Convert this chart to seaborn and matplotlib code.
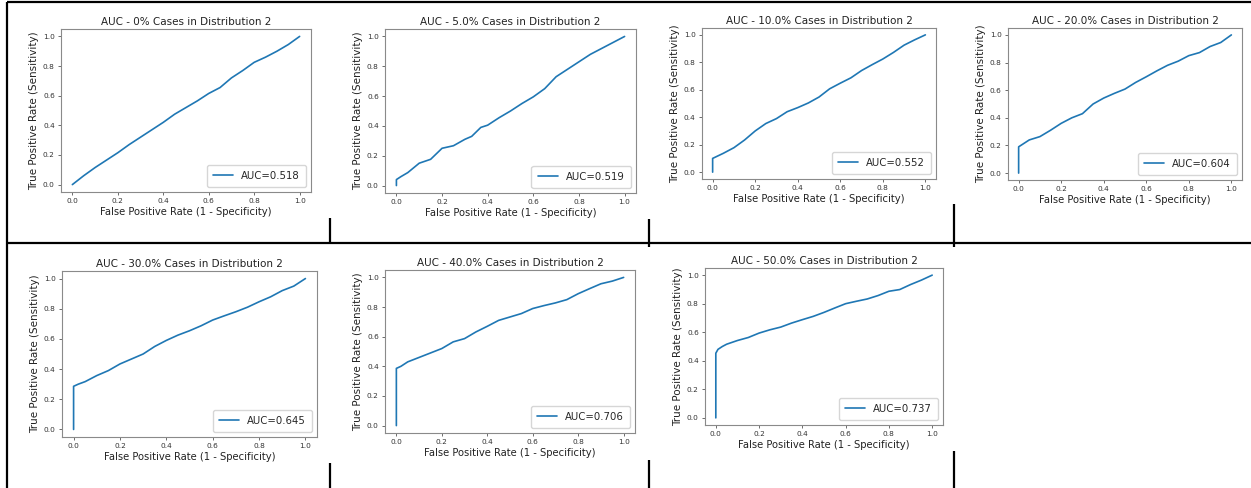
import numpy as np
import matplotlib
matplotlib.use("Agg")
import matplotlib.pyplot as plt
from matplotlib.lines import Line2D
import seaborn as sns

sns.set_theme(style="ticks")
plt.rcParams['font.family'] = ['DejaVu Sans']

# shares of cases drawn from distribution 2, and the AUC of each run
shares = ["0%", "5.0%", "10.0%", "20.0%", "30.0%", "40.0%", "50.0%"]
aucs = [0.518, 0.519, 0.552, 0.604, 0.645, 0.706, 0.737]

# ROC curves (false positive rate, true positive rate)
fpr_grid = [0.0, 0.05, 0.1, 0.15, 0.2, 0.25, 0.3, 0.35, 0.4, 0.45, 0.5,
            0.55, 0.6, 0.65, 0.7, 0.75, 0.8, 0.85, 0.9, 0.95, 1.0]

fpr_0 = fpr_grid
tpr_0 = [0.0, 0.06, 0.115, 0.165, 0.215, 0.27, 0.32, 0.37, 0.42, 0.475, 0.52,
         0.565, 0.615, 0.655, 0.72, 0.77, 0.825, 0.86, 0.9, 0.945, 1.0]

fpr_5 = [0.0, 0.0, 0.02] + fpr_grid[1:7] + [0.33, 0.37] + fpr_grid[8:]
tpr_5 = [0.0, 0.04, 0.06, 0.087, 0.15, 0.176, 0.25, 0.267, 0.31, 0.33, 0.39,
         0.405, 0.455, 0.5, 0.55, 0.595, 0.65, 0.73, 0.78, 0.83, 0.88, 0.92,
         0.96, 1.0]

fpr_10 = [0.0] + fpr_grid
tpr_10 = [0.0, 0.1, 0.137, 0.178, 0.234, 0.3, 0.354, 0.39, 0.44, 0.47, 0.504,
          0.547, 0.607, 0.648, 0.687, 0.74, 0.783, 0.824, 0.872, 0.925, 0.964, 1.0]

fpr_20 = [0.0, 0.0, 0.02] + fpr_grid[1:]
tpr_20 = [0.0, 0.19, 0.21, 0.24, 0.264, 0.31, 0.36, 0.40, 0.43, 0.50, 0.543,
          0.577, 0.608, 0.656, 0.697, 0.74, 0.78, 0.81, 0.85, 0.872, 0.916,
          0.945, 1.0]

fpr_30 = [0.0, 0.0, 0.02] + fpr_grid[1:]
tpr_30 = [0.0, 0.286, 0.3, 0.317, 0.357, 0.39, 0.434, 0.467, 0.5, 0.55, 0.59,
          0.625, 0.654, 0.687, 0.725, 0.753, 0.78, 0.81, 0.846, 0.879, 0.92,
          0.95, 1.0]

fpr_40 = [0.0, 0.0, 0.02] + fpr_grid[1:]
tpr_40 = [0.0, 0.386, 0.4, 0.43, 0.46, 0.49, 0.52, 0.565, 0.587, 0.632, 0.67,
          0.71, 0.733, 0.756, 0.79, 0.81, 0.828, 0.85, 0.89, 0.924, 0.957,
          0.975, 1.0]

fpr_50 = [0.0, 0.0, 0.01, 0.03] + fpr_grid[1:]
tpr_50 = [0.0, 0.453, 0.48, 0.5, 0.516, 0.542, 0.563, 0.594, 0.617, 0.636,
          0.664, 0.688, 0.711, 0.739, 0.77, 0.8, 0.817, 0.833, 0.857, 0.887,
          0.899, 0.934, 0.965, 1.0]

curves = [(fpr_0, tpr_0), (fpr_5, tpr_5), (fpr_10, tpr_10), (fpr_20, tpr_20),
          (fpr_30, tpr_30), (fpr_40, tpr_40), (fpr_50, tpr_50)]

W, H = 1251, 488
# axes boxes in pixels: left, right, top, bottom
boxes = [(61, 311, 29, 192), (385, 636, 29, 193), (702, 936, 28, 179),
         (1008, 1242, 28, 180), (62, 317, 271, 437), (385, 635, 270, 433),
         (705, 943, 268, 425)]

fig = plt.figure(figsize=(W / 100, H / 100), dpi=100)

# table borders of the document the plots sit in
border_segments = [
    ((7, 2), (1251, 2)), ((7, 2), (7, 488)), ((7, 243), (1251, 243)),
    ((330, 218), (330, 243)), ((649, 219), (649, 243)), ((954, 204), (954, 243)),
    ((330, 463), (330, 488)), ((649, 460), (649, 488)), ((954, 451), (954, 488)),
    ((649, 243), (649, 247)), ((954, 243), (954, 247)),
]
for (x0, y0), (x1, y1) in border_segments:
    fig.add_artist(Line2D([x0 / W, x1 / W], [1 - y0 / H, 1 - y1 / H],
                          color='black', lw=1.6, solid_capstyle='butt'))

for (l, r, t, b), share, auc, (fpr, tpr) in zip(boxes, shares, aucs, curves):
    ax = fig.add_axes([l / W, 1 - b / H, (r - l) / W, (b - t) / H])
    sns.lineplot(x=fpr, y=tpr, estimator=None, sort=False, ax=ax,
                 color='#1f77b4', lw=1.2, label=f"AUC={auc:.3f}")
    ax.set_xlim(-0.05, 1.05)
    ax.set_ylim(-0.05, 1.05)
    ax.set_xticks([0, 0.2, 0.4, 0.6, 0.8, 1.0])
    ax.set_yticks([0, 0.2, 0.4, 0.6, 0.8, 1.0])
    ax.tick_params(labelsize=5.3, length=2.5, width=0.6, pad=2,
                   colors='#555555', labelcolor='#333333')
    for sp in ax.spines.values():
        sp.set_color('#8a8a8a')
        sp.set_linewidth(0.8)
    ax.set_title(f"AUC - {share} Cases in Distribution 2", fontsize=7.5,
                 color='#222222', pad=3)
    ax.set_xlabel("False Positive Rate (1 - Specificity)", fontsize=7.2,
                  color='#222222', labelpad=2)
    ax.set_ylabel("True Positive Rate (Sensitivity)", fontsize=7.5,
                  color='#222222', labelpad=3)
    ax.legend(loc='lower right', fontsize=7.3, frameon=True, borderpad=0.6,
              edgecolor='#cccccc', fancybox=True, handlelength=2.0)

fig.savefig("out.png", dpi=100, facecolor='white')
